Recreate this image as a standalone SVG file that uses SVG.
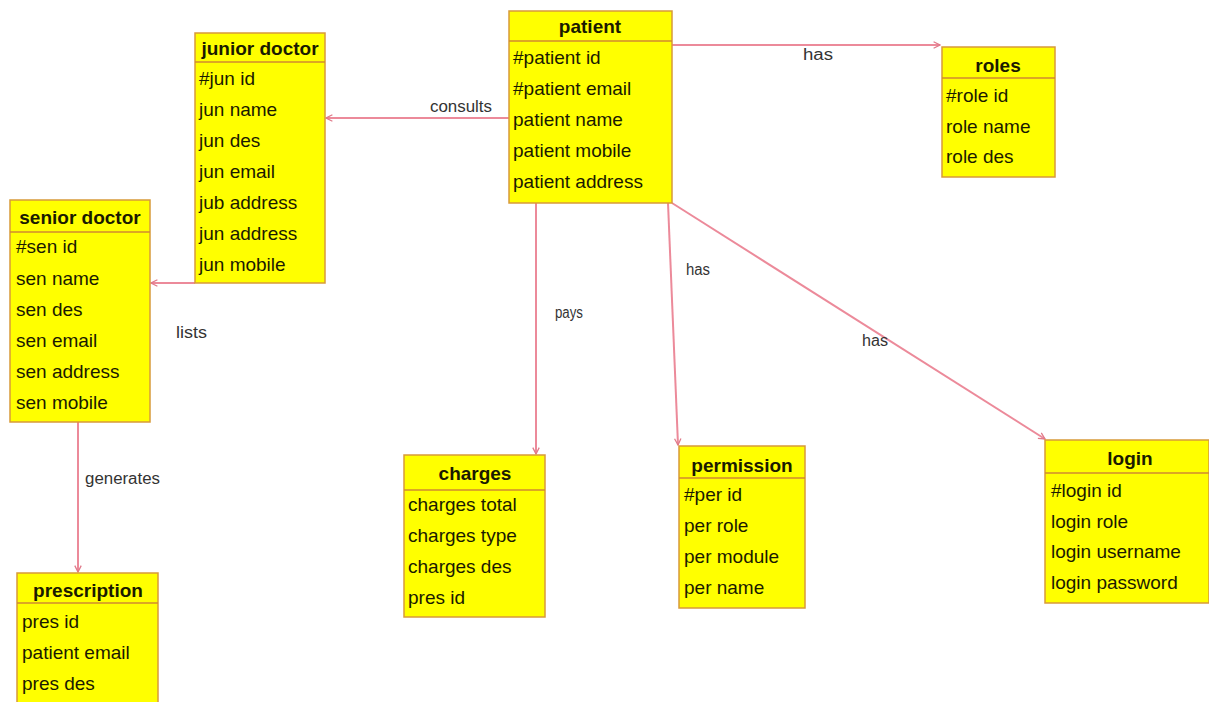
<svg xmlns="http://www.w3.org/2000/svg" width="1209" height="702" viewBox="0 0 1209 702">
  <style>
    .box { fill: #ffff00; stroke: #d89a3a; stroke-width: 1.5; }
    .div { stroke: #d08a30; stroke-width: 1.5; }
    .title { font-family: "Liberation Sans", Arial, sans-serif; font-size: 19px; font-weight: bold; fill: #1a1a00; text-anchor: middle; }
    .attr { font-family: "Liberation Sans", Arial, sans-serif; font-size: 19px; fill: #1a1a00; }
    .rel { stroke: #ec8a9a; stroke-width: 2; fill: none; }
    .lbl { font-family: "Liberation Sans", Arial, sans-serif; font-size: 16px; fill: #333; }
  </style>
  <defs>
    <marker id="head" viewBox="0 0 10 10" refX="9" refY="5" markerWidth="8" markerHeight="8" orient="auto" markerUnits="userSpaceOnUse">
      <path d="M1,1 L9,5 L1,9" fill="none" stroke="#e07a8a" stroke-width="1.6"/>
    </marker>
  </defs>
  <rect width="1209" height="702" fill="#ffffff"/>

  <!-- relationships -->
  <g id="connectors">
    <line class="rel" x1="509" y1="118" x2="326" y2="118" marker-end="url(#head)"/>
    <line class="rel" x1="672" y1="45" x2="940" y2="45" marker-end="url(#head)"/>
    <line class="rel" x1="195" y1="283" x2="151" y2="283" marker-end="url(#head)"/>
    <line class="rel" x1="78" y1="422" x2="78" y2="572" marker-end="url(#head)"/>
    <line class="rel" x1="536" y1="203" x2="536" y2="454" marker-end="url(#head)"/>
    <line class="rel" x1="668" y1="203" x2="678" y2="445" marker-end="url(#head)"/>
    <line class="rel" x1="672" y1="203" x2="1045" y2="439" stroke-width="1.5" marker-end="url(#head)"/>
    <text class="lbl" x="430" y="112" textLength="62" lengthAdjust="spacingAndGlyphs">consults</text>
    <text class="lbl" x="803" y="60" font-size="18" textLength="30" lengthAdjust="spacingAndGlyphs">has</text>
    <text class="lbl" x="176" y="338" font-size="17" textLength="31" lengthAdjust="spacingAndGlyphs">lists</text>
    <text class="lbl" x="85" y="484" textLength="75" lengthAdjust="spacingAndGlyphs">generates</text>
    <text class="lbl" x="555" y="318" font-size="17" textLength="28" lengthAdjust="spacingAndGlyphs">pays</text>
    <text class="lbl" x="686" y="275" font-size="17" textLength="24" lengthAdjust="spacingAndGlyphs">has</text>
    <text class="lbl" x="862" y="346" font-size="16" textLength="26" lengthAdjust="spacingAndGlyphs">has</text>
  </g>

  <g id="junior-doctor">
    <rect class="box" x="195" y="33" width="130" height="250"/>
    <line class="div" x1="195" y1="62" x2="325" y2="62"/>
    <text class="title" x="260" y="55">junior doctor</text>
    <text class="attr" x="199" y="85">#jun id</text>
    <text class="attr" x="199" y="116">jun name</text>
    <text class="attr" x="199" y="147">jun des</text>
    <text class="attr" x="199" y="178">jun email</text>
    <text class="attr" x="199" y="209">jub address</text>
    <text class="attr" x="199" y="240">jun address</text>
    <text class="attr" x="199" y="271">jun mobile</text>
  </g>

  <g id="patient">
    <rect class="box" x="509" y="11" width="163" height="192"/>
    <line class="div" x1="509" y1="41" x2="672" y2="41"/>
    <text class="title" x="590" y="33">patient</text>
    <text class="attr" x="513" y="64">#patient id</text>
    <text class="attr" x="513" y="95">#patient email</text>
    <text class="attr" x="513" y="126">patient name</text>
    <text class="attr" x="513" y="157">patient mobile</text>
    <text class="attr" x="513" y="188">patient address</text>
  </g>

  <g id="roles">
    <rect class="box" x="942" y="47" width="113" height="130"/>
    <line class="div" x1="942" y1="78" x2="1055" y2="78"/>
    <text class="title" x="998" y="72">roles</text>
    <text class="attr" x="946" y="102">#role id</text>
    <text class="attr" x="946" y="133">role name</text>
    <text class="attr" x="946" y="163">role des</text>
  </g>

  <g id="senior-doctor">
    <rect class="box" x="10" y="200" width="140" height="222"/>
    <line class="div" x1="10" y1="232" x2="150" y2="232"/>
    <text class="title" x="80" y="224">senior doctor</text>
    <text class="attr" x="16" y="253">#sen id</text>
    <text class="attr" x="16" y="285">sen name</text>
    <text class="attr" x="16" y="316">sen des</text>
    <text class="attr" x="16" y="347">sen email</text>
    <text class="attr" x="16" y="378">sen address</text>
    <text class="attr" x="16" y="409">sen mobile</text>
  </g>

  <g id="prescription">
    <rect class="box" x="17" y="573" width="141" height="140"/>
    <line class="div" x1="17" y1="603" x2="158" y2="603"/>
    <text class="title" x="88" y="597">prescription</text>
    <text class="attr" x="22" y="628">pres id</text>
    <text class="attr" x="22" y="659">patient email</text>
    <text class="attr" x="22" y="690">pres des</text>
  </g>

  <g id="charges">
    <rect class="box" x="404" y="455" width="141" height="162"/>
    <line class="div" x1="404" y1="490" x2="545" y2="490"/>
    <text class="title" x="475" y="480">charges</text>
    <text class="attr" x="408" y="511">charges total</text>
    <text class="attr" x="408" y="542">charges type</text>
    <text class="attr" x="408" y="573">charges des</text>
    <text class="attr" x="408" y="604">pres id</text>
  </g>

  <g id="permission">
    <rect class="box" x="679" y="446" width="126" height="162"/>
    <line class="div" x1="679" y1="478" x2="805" y2="478"/>
    <text class="title" x="742" y="472">permission</text>
    <text class="attr" x="684" y="501">#per id</text>
    <text class="attr" x="684" y="532">per role</text>
    <text class="attr" x="684" y="563">per module</text>
    <text class="attr" x="684" y="594">per name</text>
  </g>

  <g id="login">
    <rect class="box" x="1045" y="440" width="164" height="163"/>
    <line class="div" x1="1045" y1="473" x2="1209" y2="473"/>
    <text class="title" x="1130" y="465">login</text>
    <text class="attr" x="1051" y="497">#login id</text>
    <text class="attr" x="1051" y="528">login role</text>
    <text class="attr" x="1051" y="558">login username</text>
    <text class="attr" x="1051" y="589">login password</text>
  </g>
</svg>
